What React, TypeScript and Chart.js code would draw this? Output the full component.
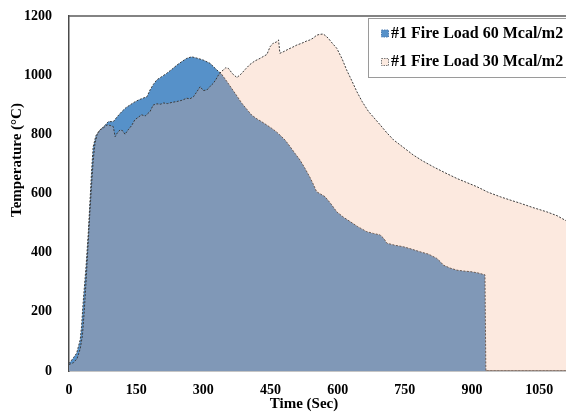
import React, { useEffect, useRef } from "react";
import { Chart, registerables } from "chart.js";

Chart.register(...registerables);

// ---- Data ----
const seriesLabels = ["#1 Fire Load 60 Mcal/m2", "#1 Fire Load 30 Mcal/m2"];

const times60 = [
  0, 10, 17, 25, 28, 32, 38, 43, 47, 51, 54, 60, 69, 77, 88, 99, 108, 118, 127, 136, 145, 155, 165, 174,
  181, 188, 196, 207, 218, 230, 241, 252, 263, 274, 285, 300, 315, 330, 341, 352, 363, 375, 386, 397, 408,
  420, 430, 441, 453, 462, 471, 483, 494, 505, 516, 527, 538, 546, 553, 562, 572, 585, 598, 613, 628, 645,
  665, 680, 695, 703, 710, 728, 747, 765, 784, 803, 821, 829, 836, 851, 866, 881, 896, 912, 929, 931, 1110,
];
const temps60 = [
  25, 45, 60, 105, 150, 240, 352, 465, 578, 690, 758, 795, 815, 825, 843, 843, 860, 877, 890, 899, 908, 916, 922, 927,
  950, 968, 984, 995, 1006, 1020, 1034, 1046, 1057, 1062, 1058, 1051, 1040, 1018, 1003, 980, 956, 930, 905, 885, 865,
  852, 843, 832, 820, 810, 798, 780, 758, 735, 713, 685, 655, 630, 606, 598, 589, 565, 538, 520, 505, 488,
  471, 465, 460, 448, 432, 425, 420, 412, 403, 395, 381, 370, 358, 348, 341, 338, 336, 332, 325, 0, 0,
];

const times30 = [
  0, 10, 18, 25, 30, 34, 38, 42, 46, 50, 54, 58, 63, 69, 77, 85, 92, 99, 103, 108, 114, 120, 125, 132, 140,
  147, 155, 162, 170, 181, 188, 196, 205, 211, 220, 230, 241, 252, 263, 270, 278, 286, 293, 300, 308, 315,
  322, 328, 334, 340, 345, 350, 356, 365, 375, 385, 395, 404, 415, 427, 436, 442, 449, 456, 463, 468, 471,
  480, 490, 500, 509, 520, 530, 538, 545, 553, 560, 568, 573, 579, 588, 598, 610, 620, 632, 643, 655, 669,
  680, 695, 710, 725, 745, 769, 790, 814, 840, 866, 890, 911, 935, 963, 985, 1008, 1035, 1067, 1090, 1110,
];
const temps30 = [
  22, 28, 42, 75, 120, 200, 300, 410, 520, 620, 710, 770, 800, 815, 822, 832, 830, 826, 792, 805, 815, 812, 800, 815, 830,
  849, 858, 866, 862, 877, 899, 903, 902, 906, 904, 908, 911, 915, 922, 920, 927, 945, 961, 948, 950, 962,
  972, 985, 1001, 1012, 1018, 1025, 1023, 1005, 992, 1005, 1022, 1036, 1048, 1057, 1065, 1070, 1096, 1108, 1112, 1119, 1074,
  1080, 1088, 1095, 1102, 1108, 1115, 1119, 1125, 1135, 1138, 1139, 1133, 1125, 1108, 1091, 1055, 1018, 980, 944, 910, 877,
  858, 832, 805, 781, 758, 730, 710, 690, 670, 651, 636, 623, 605, 589, 578, 567, 553, 538, 525, 508,
];

const xMin = 0;
const xMax = 1110;
const xStep = 150;
const yMin = 0;
const yMax = 1200;
const yStep = 200;
const xTitle = "Time (Sec)";
const yTitle = "Temperature (°C)";

const FONT = "'Liberation Serif', 'Times New Roman', serif";

const colors = {
  fill60: "rgb(86,145,201)",
  fill30: "rgba(244,174,137,0.27)",
  line: "#3c3c3c",
};

function toPoints(xs: number[], ys: number[]) {
  return xs.map((x, i) => ({ x, y: ys[i] }));
}

const plainNumber = (v: any) => String(v);

const decorPlugin = {
  id: "decor",
  afterDraw(chart: any) {
    const { ctx, chartArea } = chart;
    ctx.save();
    // top frame line
    ctx.strokeStyle = "#5a5a5a";
    ctx.lineWidth = 1.5;
    ctx.beginPath();
    ctx.moveTo(chartArea.left, chartArea.top);
    ctx.lineTo(chartArea.right, chartArea.top);
    ctx.stroke();

    // axis titles
    ctx.fillStyle = "#000";
    ctx.font = `bold 15px ${FONT}`;
    ctx.textAlign = "center";
    ctx.textBaseline = "middle";
    ctx.fillText(xTitle, 304, 404);
    ctx.save();
    ctx.translate(17, 160);
    ctx.rotate(-Math.PI / 2);
    ctx.fillText(yTitle, 0, 0);
    ctx.restore();

    // legend box
    ctx.strokeStyle = "#9a9a9a";
    ctx.lineWidth = 1;
    ctx.strokeRect(368.5, 18.5, 220, 59);
    const rows = [33.5, 62];
    chart.data.datasets.forEach((ds: any, i: number) => {
      const cy = rows[i];
      ctx.fillStyle = i === 0 ? colors.fill60 : "rgb(252,234,224)";
      ctx.fillRect(381.5, cy - 3.5, 7, 7);
      ctx.setLineDash([1.5, 1]);
      ctx.strokeStyle = i === 0 ? "#4a7bb0" : "#7a7a7a";
      ctx.strokeRect(381.5, cy - 3.5, 7, 7);
      ctx.setLineDash([]);
      ctx.fillStyle = "#000";
      ctx.font = `bold 16px ${FONT}`;
      ctx.textAlign = "left";
      ctx.textBaseline = "middle";
      ctx.fillText(ds.label, 391, cy);
    });
    ctx.restore();
  },
};

export default function App() {
  const canvasRef = useRef<HTMLCanvasElement | null>(null);

  useEffect(() => {
    if (!canvasRef.current) return;
    const chart = new Chart(canvasRef.current, {
      type: "line",
      data: {
        datasets: [
          {
            label: seriesLabels[0],
            data: toPoints(times60, temps60),
            backgroundColor: colors.fill60,
            borderColor: colors.line,
            borderWidth: 1,
            borderDash: [2, 1.5],
            fill: "origin",
            pointRadius: 0,
            tension: 0,
            order: 2,
          },
          {
            label: seriesLabels[1],
            data: toPoints(times30, temps30),
            backgroundColor: colors.fill30,
            borderColor: colors.line,
            borderWidth: 1,
            borderDash: [2, 1.5],
            fill: "origin",
            pointRadius: 0,
            tension: 0,
            order: 1,
          },
        ],
      },
      options: {
        animation: false,
        responsive: false,
        layout: { padding: { top: 16, right: 0, left: 0, bottom: 0 } },
        plugins: {
          legend: { display: false },
          tooltip: { enabled: false },
        },
        scales: {
          x: {
            type: "linear",
            min: xMin,
            max: xMax,
            ticks: {
              stepSize: xStep,
              includeBounds: false,
              color: "#000",
              padding: 11,
              maxRotation: 0,
              callback: plainNumber,
              font: { family: FONT, size: 14, weight: "bold" },
            },
            grid: { display: true, drawOnChartArea: false, drawTicks: false },
            border: { display: true, color: "#8c8c8c", width: 1.5 },
            afterFit: (s: any) => {
              s.height = 41;
              s.paddingRight = 0;
            },
          },
          y: {
            min: yMin,
            max: yMax,
            ticks: {
              stepSize: yStep,
              color: "#000",
              padding: 17,
              callback: plainNumber,
              font: { family: FONT, size: 14, weight: "bold" },
            },
            grid: { display: true, drawOnChartArea: false, drawTicks: false },
            border: { display: true, color: "#4a4a4a", width: 1.5 },
            afterFit: (s: any) => {
              s.width = 69;
              s.paddingTop = 0;
              s.paddingBottom = 0;
            },
          },
        },
      },
      plugins: [decorPlugin],
    } as any);
    return () => chart.destroy();
  }, []);

  return (
    <div style={{ position: "fixed", left: 0, top: 0, width: 566, height: 412, background: "#fff" }}>
      <canvas ref={canvasRef} width={566} height={412} />
    </div>
  );
}
